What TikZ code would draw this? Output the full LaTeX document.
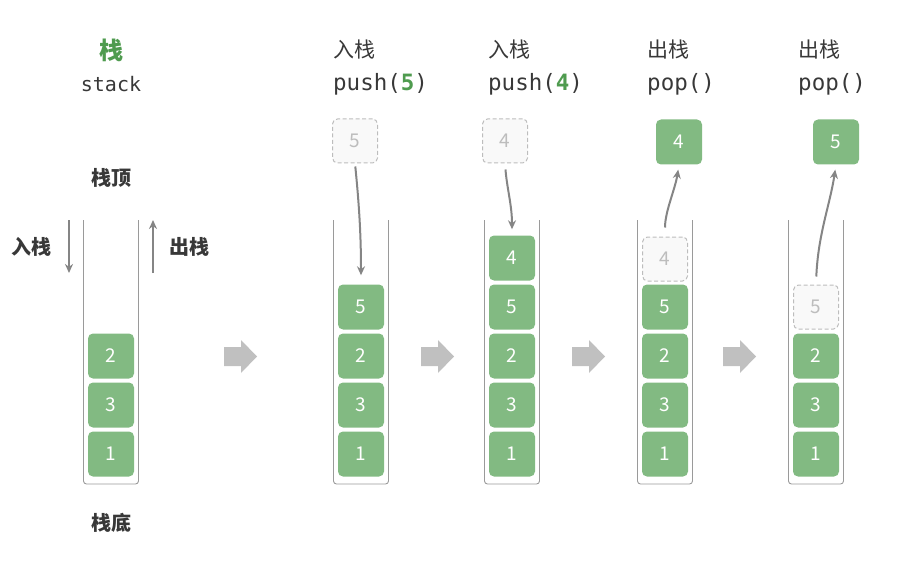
\documentclass[tikz,border=0pt]{standalone}
\usepackage{fontspec}
\setmainfont{Noto Sans CJK SC}
\setmonofont{DejaVu Sans Mono}
\usetikzlibrary{arrows.meta}
\definecolor{cellgreen}{HTML}{82BA82}
\definecolor{titlegreen}{HTML}{4F9B4F}
\definecolor{bigarrowgray}{HTML}{C0C0C0}
\definecolor{wallgray}{HTML}{9A9A9A}
\definecolor{ghostgray}{HTML}{BDBDBD}
\definecolor{ghostfill}{HTML}{F9F9F9}
\definecolor{textdark}{HTML}{383838}
\definecolor{linkgray}{HTML}{858585}
\tikzset{
  cell/.style={fill=cellgreen, rounded corners=5pt, inner sep=0pt,
    minimum width=46pt, minimum height=45pt, text=white,
    font=\fontsize{19}{19}\selectfont},
  ghost/.style={cell, fill=ghostfill, draw=ghostgray, line width=1pt,
    dash pattern=on 4pt off 2.5pt, minimum width=45pt, minimum height=44pt,
    text=ghostgray},
  wall/.style={draw=wallgray, line width=0.9pt, rounded corners=3pt},
  link/.style={draw=linkgray, line width=2pt, -{Stealth[length=9pt,width=8pt]}},
  head/.style={anchor=west, inner sep=0pt, text=textdark,
    font=\fontsize{21}{21}\selectfont},
  code/.style={anchor=west, inner sep=0pt, text=textdark,
    font=\ttfamily\fontsize{22.5}{22.5}\selectfont},
  side/.style={inner sep=0pt, text=textdark, font=\bfseries\fontsize{20}{20}\selectfont}
}
\begin{document}
\begin{tikzpicture}[x=1pt, y=-1pt]
\useasboundingbox (0,0) rectangle (908,567);
% Containers
\foreach \cx in {111,361,512,665,816} {
  \draw[wall] (\cx-27.5,220) -- (\cx-27.5,484) -- (\cx+27.5,484) -- (\cx+27.5,220);
}
% Bottom cells shared by every stack
\foreach \cx/\k in {111/1,361/2,512/3,665/4,816/5} {
  \node[cell] (c\k-1) at (\cx,454) {1};
  \node[cell] (c\k-3) at (\cx,405) {3};
  \node[cell] (c\k-2) at (\cx,356) {2};
}
% Upper cells
\node[cell] (c2-5) at (361,307) {5};
\node[cell] (c3-5) at (512,307) {5};
\node[cell] (c3-4) at (512,258) {4};
\node[cell] (c4-5) at (665,307) {5};
\node[ghost] (c4-4) at (665,259) {4};
\node[ghost] (c5-5) at (816,307) {5};
% Cells outside the stacks
\node[ghost] (in5) at (355,141) {5};
\node[ghost] (in4) at (505,141) {4};
\node[cell] (out4) at (679,142) {4};
\node[cell] (out5) at (836,142) {5};
% Links
\draw[link, shorten <=3pt, shorten >=9pt] (in5.south) .. controls +(4,40) and +(0,-50) .. (c2-5.north);
\draw[link, shorten <=6pt, shorten >=6pt] (in4.south) .. controls +(2,25) and +(0,-30) .. (c3-4.north);
\draw[link, shorten <=9pt, shorten >=5pt] (c4-4.north) .. controls +(0,-25) and +(-4,25) .. (out4.south);
\draw[link, shorten <=8pt, shorten >=5pt] (c5-5.north) .. controls +(2,-50) and +(-6,40) .. (out5.south);
% Big arrows between stages
\foreach \ax in {224,421,572,723} {
  \fill[bigarrowgray] (\ax,347) -- ++(17,0) -- ++(0,-7) -- ++(16,16.5)
    -- ++(-16,16.5) -- ++(0,-7) -- ++(-17,0) -- cycle;
}
% Legend of the first stack
\node[inner sep=0pt, text=titlegreen, font=\bfseries\fontsize{24}{24}\selectfont] (title) at (111,50) {栈};
\node[inner sep=0pt, text=textdark, font=\ttfamily\fontsize{20}{20}\selectfont] (titleen) at (111,84) {stack};
\node[side] (top) at (111,178) {栈顶};
\node[side] (bottom) at (111,523) {栈底};
\node[side] (pushlbl) at (31,247) {入栈};
\node[side] (poplbl) at (189,247) {出栈};
\coordinate (pusha) at (69,220);
\coordinate (pushb) at (69,273);
\coordinate (popa) at (153,273);
\coordinate (popb) at (153,220);
\draw[link, line width=2.4pt] (pusha) -- (pushb);
\draw[link, line width=2.4pt] (popa) -- (popb);
% Stage headers
\node[head] (h2) at (333,50) {入栈};
\node[code] (k2) at (333,84) {push(\textcolor{titlegreen}{\bfseries 5})};
\node[head] (h3) at (488,50) {入栈};
\node[code] (k3) at (488,84) {push(\textcolor{titlegreen}{\bfseries 4})};
\node[head] (h4) at (647,50) {出栈};
\node[code] (k4) at (647,84) {pop()};
\node[head] (h5) at (798,50) {出栈};
\node[code] (k5) at (798,84) {pop()};
\end{tikzpicture}
\end{document}
